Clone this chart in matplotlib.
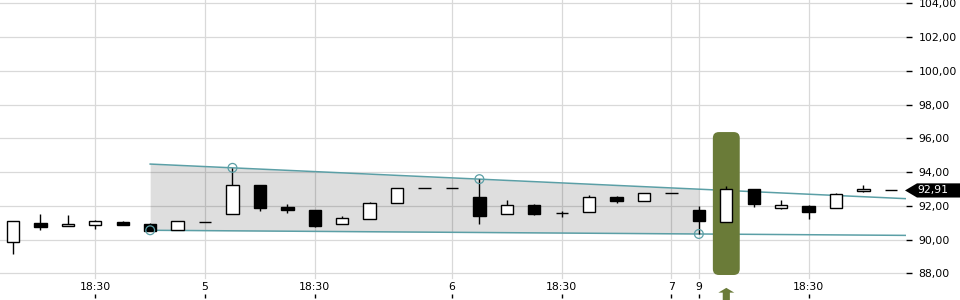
import numpy as np
import matplotlib
matplotlib.use("Agg")
import matplotlib.pyplot as plt
from matplotlib.patches import Polygon, FancyBboxPatch
from matplotlib.transforms import blended_transform_factory


# candle data, one entry per bar
opens = [89.84, 90.98, 90.78, 90.84, 91.04, 90.92, 90.59, 91.04, 91.50, 93.23,
         91.93, 91.75, 90.90, 91.20, 92.15, 93.04, 93.04, 92.50, 91.50, 92.03,
         91.56, 91.61, 92.50, 92.27, 92.74, 91.75, 91.06, 92.98, 91.89, 91.99,
         91.85, 92.86, 92.92]
highs = [91.10, 91.51, 91.45, 91.16, 91.10, 90.98, 91.10, 91.04, 94.25, 93.23,
         92.11, 91.75, 91.40, 92.22, 93.04, 93.04, 93.04, 93.58, 92.33, 92.11,
         91.71, 92.64, 92.58, 92.74, 92.74, 91.99, 93.17, 92.98, 92.34, 92.05,
         92.76, 93.21, 92.92]
lows = [89.16, 90.57, 90.78, 90.64, 90.88, 90.55, 90.59, 91.04, 91.50, 91.71,
        91.59, 90.76, 90.90, 91.20, 92.15, 93.04, 93.04, 90.94, 91.50, 91.47,
        91.32, 91.61, 92.18, 92.27, 92.74, 90.33, 91.06, 91.95, 91.83, 91.24,
        91.85, 92.80, 92.92]
closes = [91.10, 90.76, 90.92, 91.10, 90.88, 90.53, 91.10, 91.04, 93.23, 91.89,
          91.77, 90.82, 91.26, 92.15, 93.04, 93.04, 93.04, 91.41, 92.03, 91.53,
          91.56, 92.50, 92.30, 92.74, 92.74, 91.12, 92.98, 92.11, 92.05, 91.65,
          92.70, 93.00, 92.92]

tick_pos = [3, 7, 11, 16, 20, 24, 25, 29]
tick_labels = ["18:30", "5", "18:30", "6", "18:30", "7", "9", "18:30"]

# trend channel anchors (bar index, price)
upper_pts = [(8, 94.25), (17, 93.58)]
lower_pts = [(5, 90.55), (25, 90.33)]
signal_bar = 26
last_price = 92.91

TEAL = "#5b9fa6"
GRID = "#d9d9d9"
OLIVE = "#6a7b38"

plt.rcParams["font.family"] = "DejaVu Sans"
fig = plt.figure(figsize=(9.6, 3.0), dpi=100)
ax = fig.add_axes([0, 2 / 300, 906 / 960, 298 / 300])

x = np.arange(len(opens))
xmin, xmax = -0.474, 32.55
ax.set_xlim(xmin, xmax)
ax.set_ylim(86.536, 104.196)

# grid
for yv in np.arange(88, 105, 2):
    ax.axhline(yv, color=GRID, lw=0.9, zorder=0)
for xv in tick_pos:
    ax.axvline(xv, ymin=0.067, color=GRID, lw=0.9, zorder=0)

# channel lines
def line_at(pts, xs):
    (x0, y0), (x1, y1) = pts
    k = (y1 - y0) / (x1 - x0)
    return y0 + k * (np.asarray(xs) - x0)

start = lower_pts[0][0]
end_shade = lower_pts[1][0]
xs_shade = np.array([start, end_shade])
ax.fill_between(xs_shade, line_at(lower_pts, xs_shade), line_at(upper_pts, xs_shade),
                color="black", alpha=0.13, lw=0, zorder=1)
xs_line = np.array([start, xmax])
ax.plot(xs_line, line_at(upper_pts, xs_line), color=TEAL, lw=1.1, zorder=2)
ax.plot(xs_line, line_at(lower_pts, xs_line), color=TEAL, lw=1.1, zorder=2)
cx = [p[0] for p in upper_pts + lower_pts]
cy = [p[1] for p in upper_pts + lower_pts]
ax.scatter(cx, cy, s=40, facecolors="none", edgecolors=TEAL, lw=0.9, zorder=5)

# signal highlight
box = FancyBboxPatch((signal_bar - 0.49, 87.9), 0.98, 8.47,
                     boxstyle="round,pad=0,rounding_size=0.22",
                     mutation_aspect=1.626, fc=OLIVE, ec="none", zorder=2.5)
ax.add_patch(box)
tr = blended_transform_factory(ax.transData, ax.transAxes)
arrow = Polygon([(signal_bar - 0.29, 0.018), (signal_bar, 0.034), (signal_bar + 0.29, 0.018),
                 (signal_bar + 0.13, 0.018), (signal_bar + 0.13, -0.02),
                 (signal_bar - 0.13, -0.02), (signal_bar - 0.13, 0.018)],
                closed=True, transform=tr, fc=OLIVE, ec="none", clip_on=False, zorder=6)
ax.add_patch(arrow)

# candles
o = np.array(opens)
c = np.array(closes)
ax.vlines(x, lows, highs, color="black", lw=1, zorder=3)
up = c >= o
ax.bar(x, np.abs(c - o), bottom=np.minimum(o, c), width=0.45,
       color=np.where(up, "white", "black"), edgecolor="black", lw=1, zorder=4)

# axes styling
for s in ax.spines.values():
    s.set_visible(False)
ax.set_xticks(tick_pos)
ax.set_xticklabels(tick_labels)
ax.tick_params(axis="x", direction="in", length=3, width=1, pad=-11.5, labelsize=7.8)
ax.yaxis.tick_right()
ax.set_yticks(np.arange(88, 105, 2))
ax.set_yticklabels([f"{v:.2f}".replace(".", ",") for v in np.arange(88, 105, 2)])
ax.tick_params(axis="y", direction="out", length=4, width=1, pad=5, labelsize=7.8)

# last price label
trf = blended_transform_factory(fig.transFigure, ax.transData)
h = 0.42
tag = Polygon([(905 / 960, last_price), (917 / 960, last_price + h), (1.0, last_price + h),
               (1.0, last_price - h), (917 / 960, last_price - h)],
              closed=True, transform=trf, fc="black", ec="none", clip_on=False, zorder=7)
ax.add_patch(tag)
ax.text(933 / 960, last_price, f"{last_price:.2f}".replace(".", ","), transform=trf,
        color="white", fontsize=7.8, ha="center", va="center", zorder=8)

fig.savefig("out.png", dpi=100)
